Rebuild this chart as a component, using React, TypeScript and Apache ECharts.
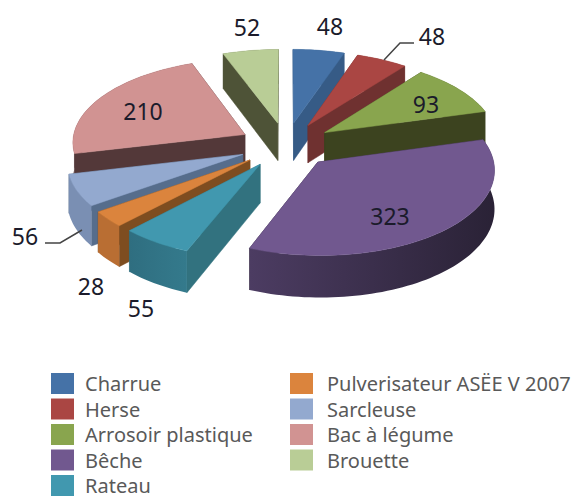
import React, { useEffect, useRef } from "react";
import * as echarts from "echarts";

const categories = ["Charrue", "Herse", "Arrosoir plastique", "Bêche", "Rateau", "Pulverisateur ASËE V 2007", "Sarcleuse", "Bac à légume", "Brouette"];
const values = [48, 48, 93, 323, 55, 28, 56, 210, 52];
const topColors = ["#4572A7", "#AA4643", "#89A54E", "#71588F", "#4198AF", "#DB843D", "#93A9CF", "#D19392", "#B9CD96"];
const radialColors = ["#365B86", "#6F3130", "#3C431F", "#2E2438", "#32727F", "#7E4D20", "#566D8C", "#533839", "#4E5337"];
const arcColors: [string, string][] = [
  ["#365B86", "#365B86"], ["#6F3130", "#6F3130"], ["#3C431F", "#3C431F"], ["#4C3C62", "#2A2236"],
  ["#2F6E80", "#347A8C"], ["#B96E33", "#B96E33"], ["#7A8FB3", "#7A8FB3"], ["#533839", "#533839"], ["#4E5337", "#4E5337"],
];
const drawOrder = [8, 0, 1, 2, 7, 6, 3, 5, 4];

const labelPlaces: [number, number][] = [[330, 26], [432, 36], [426, 104], [390, 216], [141, 308], [91, 286], [25, 236], [143, 111], [247, 27]];

const CX = 286, CY = 145, R0 = 173, EXPLODE = 47, TILT = 0.48, PERSP = 0.08, DEPTH = 38;
const total = values.reduce((a, b) => a + b, 0);
const starts = values.map((_, i) => (values.slice(0, i).reduce((a, b) => a + b, 0) / total) * Math.PI * 2);
const ends = values.map((_, i) => (values.slice(0, i + 1).reduce((a, b) => a + b, 0) / total) * Math.PI * 2);

function project(i: number, r: number, a: number, lower: boolean): number[] {
  const mid = (starts[i] + ends[i]) / 2;
  const u = EXPLODE * Math.sin(mid) + r * Math.sin(a);
  const v = -EXPLODE * Math.cos(mid) - r * Math.cos(a);
  const f = 1 / (1 - (PERSP * v) / R0);
  return [CX + u * f, CY + TILT * v * f + (lower ? DEPTH * f : 0)];
}

function renderSlice(i: number) {
  const s = starts[i], e = ends[i];
  const n = Math.max(2, Math.ceil((e - s) / 0.03));
  const angles: number[] = [];
  for (let k = 0; k <= n; k++) angles.push(s + ((e - s) * k) / n);
  const topArc = angles.map((a) => project(i, R0, a, false));
  const lowArc = angles.map((a) => project(i, R0, a, true));
  const tipT = project(i, 0, 0, false);
  const tipB = project(i, 0, 0, true);
  const wall = (a: number) => ({
    type: "polygon",
    shape: { points: [tipT, project(i, R0, a, false), project(i, R0, a, true), tipB] },
    style: { fill: radialColors[i], stroke: radialColors[i], lineWidth: 0.5 },
    silent: true,
  });
  const startFront = -Math.cos(s) > -Math.cos(e);
  const walls = startFront ? [wall(e), wall(s)] : [wall(s), wall(e)];
  const arcWall = {
    type: "polygon",
    shape: { points: [...topArc, ...lowArc.slice().reverse()] },
    style: {
      fill: new echarts.graphic.LinearGradient(0, 0, 1, 0, [
        { offset: 0, color: arcColors[i][0] },
        { offset: 1, color: arcColors[i][1] },
      ]),
    },
    silent: true,
  };
  const top = {
    type: "polygon",
    shape: { points: [tipT, ...topArc] },
    style: { fill: topColors[i], stroke: topColors[i], lineWidth: 0.5 },
    silent: true,
  };
  return { type: "group", children: [...walls, arcWall, top] };
}

export default function App() {
  const ref = useRef<HTMLDivElement>(null);
  useEffect(() => {
    document.body.style.margin = "0";
    const chart = echarts.init(ref.current!, null, { renderer: "svg" });
    const legendText = { fontFamily: "Noto Sans", fontSize: 20, lineHeight: 21, color: "#595959" };
    const legendBase = { orient: "vertical", itemWidth: 23, itemHeight: 21, itemGap: 4.5, icon: "rect", selectedMode: false, padding: 0, top: 373, height: 126, width: 285 };
    const labelStyle = { fontFamily: "Noto Sans", fontSize: 23, fill: "#1B1B2B", textAlign: "center", textVerticalAlign: "middle" };
    chart.setOption({
      animation: false,
      backgroundColor: "#ffffff",
      legend: [
        { ...legendBase, left: 51, data: categories.slice(0, 5), textStyle: { ...legendText, padding: [0, 0, 0, 6] } },
        { ...legendBase, left: 290, data: categories.slice(5), textStyle: { ...legendText, padding: [0, 0, 0, 9] } },
      ],
      series: drawOrder.map((i) => ({
        type: "custom",
        name: categories[i],
        coordinateSystem: "none",
        silent: true,
        itemStyle: { color: topColors[i] },
        data: [[values[i]]],
        renderItem: () => renderSlice(i),
      })),
      graphic: [
        ...values.map((v, i) => ({
          type: "text",
          x: labelPlaces[i][0],
          y: labelPlaces[i][1],
          z: 100,
          style: { ...labelStyle, text: String(v) },
        })),
        { type: "polyline", z: 100, shape: { points: [[384, 60], [400, 43], [414, 43]] }, style: { stroke: "#444", lineWidth: 1.5, fill: "none" } },
        { type: "polyline", z: 100, shape: { points: [[82, 230], [60, 243], [45, 243]] }, style: { stroke: "#444", lineWidth: 1.5, fill: "none" } },
      ],
    });
    return () => chart.dispose();
  }, []);
  return <div ref={ref} style={{ position: "fixed", left: 0, top: 0, width: 575, height: 500 }} />;
}
